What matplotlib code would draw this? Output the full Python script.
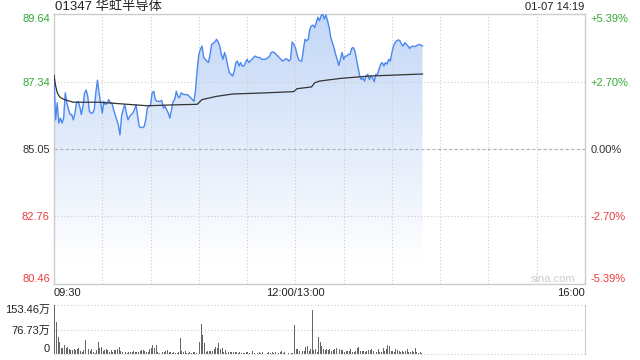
import numpy as np
import matplotlib
matplotlib.use('Agg')
import matplotlib.pyplot as plt
from matplotlib.colors import LinearSegmentedColormap

plt.rcParams['font.family'] = ['Liberation Sans', 'Noto Sans CJK SC', 'DejaVu Sans']

TITLE = "01347 华虹半导体"
STAMP = "01-07 14:19"
PREV_CLOSE = 85.05
PRICE_TICKS = [80.46, 82.76, 85.05, 87.34, 89.64]
PCT_LABELS = ["-5.39%", "-2.70%", "0.00%", "+2.70%", "+5.39%"]
TICK_COLORS = ['#ee3b3b', '#ee3b3b', '#333333', '#33aa33', '#33aa33']
TIME_POS = [0, 150, 330]
TIME_LABELS = ["09:30", "12:00/13:00", "16:00"]
VOL_TICKS = [0, 76.73, 153.46]
VOL_LABELS = ["0", "76.73万", "153.46万"]

# one price per minute (09:30 -> 14:19)
prices = [
    87.55, 86.04, 86.62, 85.93, 86.10, 85.93, 86.10, 86.96, 86.62, 86.39,
    86.22, 86.22, 86.04, 86.27, 86.62, 86.67, 86.50, 86.22, 86.50, 86.96,
    87.05, 86.84, 86.33, 86.27, 86.27, 86.39, 86.96, 87.39, 86.96, 86.62,
    86.27, 86.67, 86.56, 86.62, 86.73, 86.62, 86.62, 86.39, 86.22, 86.04,
    85.87, 85.53, 86.16, 86.39, 86.56, 86.27, 86.04, 86.16, 86.22, 86.27,
    86.39, 86.56, 86.16, 85.81, 85.78, 85.78, 85.81, 86.04, 86.44, 86.50,
    86.56, 86.96, 87.01, 86.73, 86.67, 86.67, 86.67, 86.70, 86.44, 86.50,
    86.39, 86.27, 86.10, 86.39, 86.67, 86.73, 87.01, 86.84, 86.79, 86.96,
    86.92, 86.90, 86.90, 86.90, 86.84, 86.79, 86.73, 86.67, 87.07, 87.76,
    88.27, 88.44, 88.55, 88.16, 88.10, 88.04, 87.99, 88.27, 88.61, 88.65,
    88.69, 88.78, 88.70, 88.55, 88.27, 88.10, 88.33, 88.16, 87.87, 87.64,
    87.59, 87.53, 87.70, 87.99, 88.04, 87.87, 87.99,
    87.87, 87.87, 87.99, 88.10, 87.99, 88.04, 88.10, 88.16, 88.21, 88.18,
    88.16, 88.16, 88.10, 88.10, 88.10, 88.12, 88.16, 88.21, 88.33, 88.35,
    88.33, 88.27, 88.21, 88.16, 88.10, 88.04, 88.07, 88.12, 88.10, 88.04,
    88.10, 88.69, 88.61, 88.50, 88.27, 88.10, 88.04, 88.04, 88.44, 88.78,
    88.73, 88.78, 89.13, 89.24, 89.26, 89.18, 89.36, 89.53, 89.41, 89.58,
    89.64, 89.47, 89.61, 89.41, 89.18,
    88.84, 88.67, 88.50, 88.27, 88.10, 87.89, 88.10, 88.33, 88.10, 88.21,
    88.21, 88.27, 88.27, 88.47, 88.50, 88.38, 88.10, 87.81, 87.53, 87.41,
    87.47, 87.36, 87.53, 87.59, 87.41, 87.53, 87.47, 87.34, 87.59, 87.59,
    87.76, 87.93, 87.99, 87.87, 87.99, 87.93, 88.10, 88.04, 88.33, 88.55,
    88.67, 88.73, 88.76, 88.73, 88.61, 88.55, 88.67, 88.61, 88.55, 88.47,
    88.53, 88.55, 88.53, 88.55, 88.58, 88.61, 88.58, 88.55,
]

# average price line, read at some minutes
avg_minutes = [0, 1, 2, 3, 4, 6, 12, 28, 43, 58, 74, 89, 92, 101, 111, 132,
               149, 151, 160, 162, 165, 178, 196, 229]
avg_prices = [87.55, 87.20, 86.97, 86.86, 86.80, 86.74, 86.64, 86.64, 86.58,
              86.52, 86.55, 86.57, 86.73, 86.84, 86.92, 86.96, 87.00, 87.10,
              87.16, 87.30, 87.36, 87.45, 87.53, 87.60]

# volume per minute, in 万
volumes = [
    153.46, 101, 54, 39, 20, 18, 28, 20, 23, 16,
    12, 12, 16, 12, 15, 18, 10, 7, 12, 44,
    25, 15, 10, 15, 7, 4, 12, 38, 18, 21,
    10, 12, 16, 12, 7, 12, 7, 12, 12, 16, 21,
    10, 7, 9, 5, 4, 7, 5, 7, 9, 7,
    6, 5, 10, 12, 12, 10, 5, 7, 15, 18, 28,
    18, 28, 5, 4, 7, 5, 5, 9, 12, 5, 7,
    4, 7, 4, 2, 5, 49, 9, 7, 10, 4,
    4, 5, 4, 7, 5, 4, 38, 38, 94, 60,
    35, 7, 9, 10, 10, 9, 16, 23, 18, 35,
    15, 18, 7, 12, 4, 7, 5, 7, 7,
    5, 6, 3, 6, 3, 3, 3, 5, 6, 3, 1, 10, 3, 1, 3, 5, 3, 5, 6, 1,
    3, 5, 3, 6, 3, 5, 1, 3, 6, 8, 3, 5, 1, 3, 1, 3, 4,
    91, 15, 15, 8, 10, 10, 10, 21, 26, 8, 15,
    137, 13, 15, 6,
    53, 37, 26, 15, 13, 16, 13, 15, 10, 13, 15, 18, 26, 16, 13, 13, 6, 8,
    10, 8, 16, 6, 5, 8, 18, 21, 10, 10, 10, 6, 10, 13, 13, 16, 8, 3, 6, 15,
    5, 6, 18, 8, 15, 28, 26, 8, 10, 6, 15, 13, 8, 6, 8, 5, 8, 16, 5, 6, 8,
    5, 18, 5, 3, 6, 4,
]

fig = plt.figure(figsize=(6.4, 3.6), dpi=100)
ax = fig.add_axes([54/640, 1 - 284/360, 531/640, 270/360])
vax = fig.add_axes([54/640, 1 - 354/360, 531/640, 49/360])

minutes = np.arange(len(prices))
lo, hi = PRICE_TICKS[0], PRICE_TICKS[-1]

# gradient fill under the price line
fill = ax.fill_between(minutes, prices, lo, facecolor='none', edgecolor='none')
grad = np.linspace(0, 1, 256)[:, None]
cmap = LinearSegmentedColormap.from_list(
    'fade', [(0, '#ffffff'), (0.08, '#ffffff'), (1, '#c3d7f7')])
im = ax.imshow(grad, extent=[0, 330, lo, hi], origin='lower', aspect='auto',
               cmap=cmap, zorder=1)
im.set_clip_path(fill.get_paths()[0], transform=ax.transData)

# grid
for t in range(30, 330, 30):
    ax.axvline(t, color='#cccccc', lw=0.8, ls=(0, (1, 2)), zorder=2)
for p in [PRICE_TICKS[1], PRICE_TICKS[3]]:
    ax.axhline(p, color='#cccccc', lw=0.8, ls=(0, (1, 2)), zorder=2)
ax.axhline(PREV_CLOSE, color='#b0b0b0', lw=0.8, ls=(0, (3, 2)), zorder=2)

ax.plot(minutes, prices, color='#4a88ef', lw=1, zorder=3)
ax.plot(avg_minutes, avg_prices, color='#333333', lw=0.9, zorder=3)

ax.set_xlim(0, 330)
ax.set_ylim(lo, hi)
for s in ax.spines.values():
    s.set_color('#cccccc')
    s.set_linewidth(1)

ax.set_yticks(PRICE_TICKS, ["%.2f" % p for p in PRICE_TICKS])
ax.set_xticks(TIME_POS, TIME_LABELS)
ax.tick_params(length=0, labelsize=8, pad=3, labelcolor='#222222')
for lab, c in zip(ax.get_yticklabels(), TICK_COLORS):
    lab.set_color(c)
ax.get_yticklabels()[0].set_va('bottom')
ax.get_yticklabels()[-1].set_va('top')
ax.get_xticklabels()[0].set_ha('left')
ax.get_xticklabels()[-1].set_ha('right')

twin = ax.twinx()
twin.set_ylim(lo, hi)
twin.set_yticks(PRICE_TICKS, PCT_LABELS)
twin.tick_params(length=0, labelsize=8, pad=4)
for s in twin.spines.values():
    s.set_visible(False)
for lab, c in zip(twin.get_yticklabels(), TICK_COLORS):
    lab.set_color(c)
twin.get_yticklabels()[0].set_va('bottom')
twin.get_yticklabels()[-1].set_va('top')

ax.text(0.94, 0.02, 'sina.com', transform=ax.transAxes, ha='center',
        va='center', fontsize=8, color='#cccccc')

# volume panel
vax.bar(np.arange(len(volumes)) + 0.5, volumes, width=0.6, color='#666666')
vax.set_xlim(0, 330)
vax.set_ylim(0, VOL_TICKS[-1])
for v in VOL_TICKS:
    vax.axhline(v, color='#cccccc', lw=0.8, ls=(0, (1, 2)), clip_on=False, zorder=0)
for k in ['top', 'bottom', 'left']:
    vax.spines[k].set_visible(False)
vax.spines['right'].set_color('#cccccc')
vax.set_xticks([])
vax.set_yticks(VOL_TICKS, VOL_LABELS)
vax.tick_params(length=0, labelsize=8, pad=3, labelcolor='#222222')
vax.get_yticklabels()[0].set_va('bottom')
vax.get_yticklabels()[-1].set_va('top')

fig.text(55/640, 1 - 7/360, TITLE, fontsize=9.5, ha='left', va='center', color='#222222')
fig.text(584/640, 1 - 7/360, STAMP, fontsize=8, ha='right', va='center', color='#222222')

fig.savefig('out.png', dpi=100)
